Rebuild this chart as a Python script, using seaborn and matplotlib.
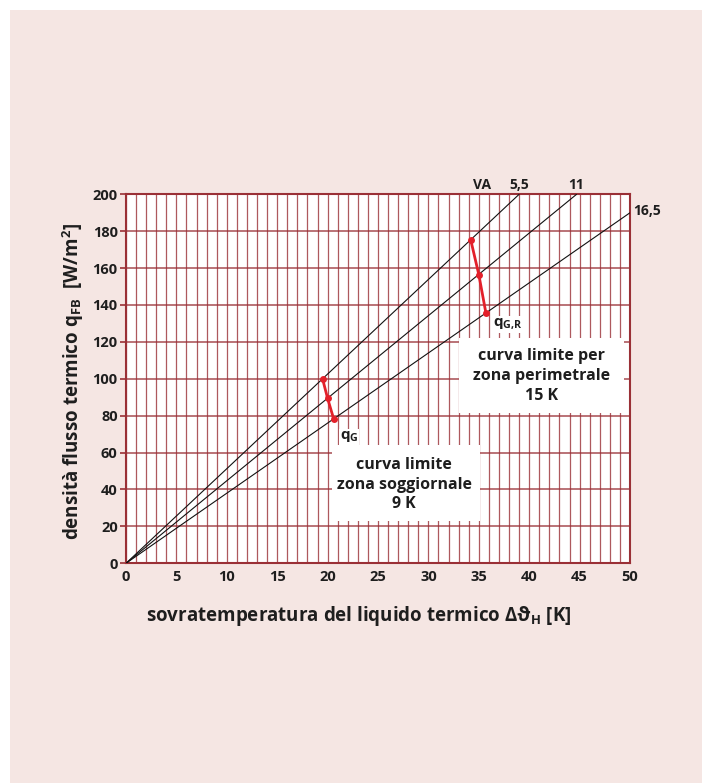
import numpy as np
import pandas as pd
import matplotlib
matplotlib.use("Agg")
import matplotlib.pyplot as plt
from matplotlib.patches import Rectangle
import seaborn as sns

# curve etichettate (VA) - retta dall'origine fino al punto finale
curve_labels = ["5,5", "11", "16,5"]
curve_end_x = [39.0, 44.7, 50.0]
curve_end_y = [200.0, 200.0, 190.0]

# curva limite zona soggiornale (9 K)
qg_x = [19.5, 20.0, 20.6]
qg_y = [100.0, 89.4, 78.3]
# curva limite zona perimetrale (15 K)
qgr_x = [34.2, 35.0, 35.7]
qgr_y = [175.3, 156.5, 135.8]

x_ticks = list(range(0, 51, 5))
y_ticks = list(range(0, 201, 20))

box_9k = "curva limite\nzona soggiornale\n9 K"
box_15k = "curva limite per\nzona perimetrale\n15 K"

sns.set_theme(style="white")
plt.rcParams["font.family"] = ["Open Sans", "DejaVu Sans"]
plt.rcParams["mathtext.fontset"] = "custom"
plt.rcParams["mathtext.rm"] = "Open Sans"
plt.rcParams["mathtext.bf"] = "Open Sans:bold"
plt.rcParams["mathtext.it"] = "Open Sans:italic"

PINK = "#F5E6E3"
GRID = "#9A3036"
TXT = "#1E1E1E"

fig = plt.figure(figsize=(7.02, 7.83), dpi=100, facecolor="white")
# sfondo rosa con margine bianco a sinistra e in alto
fig.patches.append(Rectangle((10 / 702, 0), 1, 1 - 10 / 783, transform=fig.transFigure,
                             facecolor=PINK, edgecolor="none", zorder=-10))

ax = fig.add_axes([126 / 702, (783 - 563.3) / 783, 504 / 702, 369 / 783])
ax.set_facecolor("white")

# tabella delle curve
rows = []
for lab, ex, ey in zip(curve_labels, curve_end_x, curve_end_y):
    rows.append({"curve": lab, "x": 0.0, "y": 0.0})
    rows.append({"curve": lab, "x": ex, "y": ey})
df = pd.DataFrame(rows)

sns.lineplot(data=df, x="x", y="y", units="curve", estimator=None, color="#111111",
             lw=0.8, ax=ax, zorder=3)

for xs, ys in [(qg_x, qg_y), (qgr_x, qgr_y)]:
    d = pd.DataFrame({"x": xs, "y": ys})
    sns.lineplot(data=d, x="x", y="y", color="#E3202A", lw=2.0, marker="o",
                 markersize=5, markeredgewidth=0, sort=False, ax=ax, zorder=4)

ax.set_xlim(0, 50)
ax.set_ylim(0, 200)
ax.set_xticks(x_ticks)
ax.set_xticks(np.arange(0, 51, 1), minor=True)
ax.set_yticks(y_ticks)
ax.set_axisbelow(True)
ax.grid(which="both", axis="x", color=GRID, lw=0.9, alpha=0.8)
ax.grid(which="major", axis="y", color=GRID, lw=1.2, alpha=0.8)
for s in ax.spines.values():
    s.set_color(GRID)
    s.set_linewidth(1.5)
ax.tick_params(axis="x", which="both", length=0, pad=5, labelsize=10.5, labelcolor=TXT)
ax.tick_params(axis="y", which="major", length=4, width=1.2, color=GRID, pad=2,
               labelsize=10.5, labelcolor=TXT, left=True)
for t in ax.get_xticklabels() + ax.get_yticklabels():
    t.set_fontweight("bold")
ax.set_xlabel("")
ax.set_ylabel("")

# riquadri bianchi
ax.add_patch(Rectangle((20.4, 23.1), 14.7, 41.0, facecolor="white", edgecolor="none", zorder=1))
ax.add_patch(Rectangle((33.0, 81.5), 16.4, 40.6, facecolor="white", edgecolor="none", zorder=1))
ax.text(27.6, 42.6, box_9k, ha="center", va="center", fontsize=11.5, fontweight="bold",
        color=TXT, linespacing=1.3, zorder=5)
ax.text(41.2, 101.5, box_15k, ha="center", va="center", fontsize=11.5, fontweight="bold",
        color=TXT, linespacing=1.3, zorder=5)

# etichette delle curve
ax.text(35.3, 201.5, "VA", ha="center", va="bottom", fontsize=10, fontweight="bold", color=TXT)
for lab, ex, ey in zip(curve_labels, curve_end_x, curve_end_y):
    if ey >= 200:
        ax.text(ex, 201.5, lab, ha="center", va="bottom", fontsize=10, fontweight="bold", color=TXT)
    else:
        ax.text(ex + 0.3, ey + 1, lab, ha="left", va="center", fontsize=10, fontweight="bold",
                color=TXT, clip_on=False)

ax.text(21.2, 68.5, r"q$_\mathbf{G}$", ha="left", va="center", fontsize=11, fontweight="bold",
        color=TXT, zorder=5, bbox=dict(facecolor="white", edgecolor="none", pad=0.5))
ax.text(36.4, 129.5, r"q$_\mathbf{G{,}R}$", ha="left", va="center", fontsize=11, fontweight="bold",
        color=TXT, zorder=5, bbox=dict(facecolor="white", edgecolor="none", pad=0.5))

# titoli degli assi
fig.text(359 / 702, 1 - 616 / 783, "sovratemperatura del liquido termico Δϑ$_\\mathbf{H}$ [K]",
         ha="center", va="center", fontsize=13.5, fontweight="bold", color=TXT)
fig.text(73 / 702, 1 - 382 / 783, "densità flusso termico q$_\\mathbf{FB}$  [W/m$^\\mathbf{2}$]",
         ha="center", va="center", rotation=90, fontsize=13.5, fontweight="bold", color=TXT)

fig.savefig("out.png", dpi=100, facecolor=fig.get_facecolor())
